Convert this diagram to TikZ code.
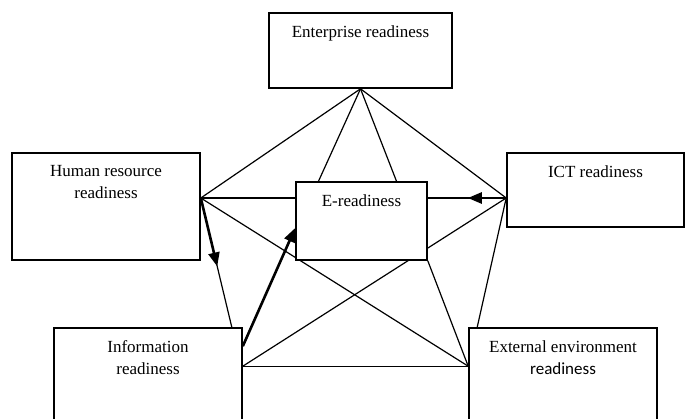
\documentclass[tikz,border=0pt]{standalone}
\usepackage{fontspec}
\setmainfont{Liberation Serif}
\newfontfamily\calibri{Carlito}
\usetikzlibrary{arrows.meta,calc,backgrounds}
\begin{document}
\begin{tikzpicture}[x=1pt,y=-1pt,
  box/.style={draw, fill=white, line width=1.6pt, inner sep=0pt},
  txt/.style={anchor=north, align=center, inner sep=0pt, font=\fontsize{17}{22}\selectfont},
  link/.style={line width=1.2pt},
  bold/.style={line width=2.6pt, -{Triangle[length=14pt,width=11pt]}}]
\useasboundingbox (0,0) rectangle (685,418);
\clip (0,0) rectangle (685,418);
\node[box, minimum width=183pt, minimum height=75pt] (ent) at (360.5,50.5){};
\node[box, minimum width=188pt, minimum height=107pt] (hr) at (106,206.5){};
\node[box, minimum width=131pt, minimum height=78pt] (ere) at (361.5,221){};
\node[box, minimum width=177pt, minimum height=74pt] (ict) at (595.5,190){};
\node[box, minimum width=188pt, minimum height=124pt] (info) at (148,390){};
\node[box, minimum width=188pt, minimum height=124pt] (ext) at (563,390){};
\node[txt] (entT) at ([yshift=-13pt]ent.north) {Enterprise readiness};
\node[txt] (hrT) at ([yshift=-13pt]hr.north) {Human resource\\readiness};
\node[txt] (ereT) at ([yshift=-13pt]ere.north) {E-readiness};
\node[txt] (ictT) at ([yshift=-13pt]ict.north) {ICT readiness};
\node[txt] (infoT) at ([yshift=-13pt]info.north) {Information\\readiness};
\node[txt] (extT) at ([yshift=-13pt]ext.north) {External environment\\{\calibri readiness}};
\coordinate (hrp) at ([yshift=8.5pt]hr.east);
\coordinate (ictp) at ([yshift=-8pt]ict.west);
\coordinate (infop) at ([xshift=-11pt]info.north east);
\coordinate (infoa) at ([yshift=-19pt]info.north east);
\coordinate (infor) at ([yshift=-39pt]info.north east);
\coordinate (extp) at ([yshift=-39pt]ext.north west);
\coordinate (extq) at ([xshift=9pt]ext.north west);
\begin{scope}[on background layer]
\draw[link] (ent.south) -- (hrp);
\draw[link] (ent.south) -- ([xshift=-43pt]ere.north);
\draw[link] (ent.south) -- ([xshift=35pt]ere.north);
\draw[link] (ent.south) -- (ictp);
\draw[link] (hrp) -- (hrp -| ere.west);
\draw[link] (hrp) -- (extp);
\draw[link] (hrp) -- (infop);
\draw[bold] (hrp) -- ($(hrp)!0.53!(infop)$);
\draw[link] (ictp) -- (ictp -| ere.east);
\draw[bold] (ictp) -- ($(ictp)!0.49!(ictp -| ere.east)$);
\draw[link] (ictp) -- (extq);
\draw[link] (ictp) -- (infor);
\draw[link] (infor) -- (extp);
\draw[link] (ere.south east) -- (extp);
\draw[bold] (infoa) -- ([yshift=-7pt]ere.west);
\end{scope}
\end{tikzpicture}
\end{document}
